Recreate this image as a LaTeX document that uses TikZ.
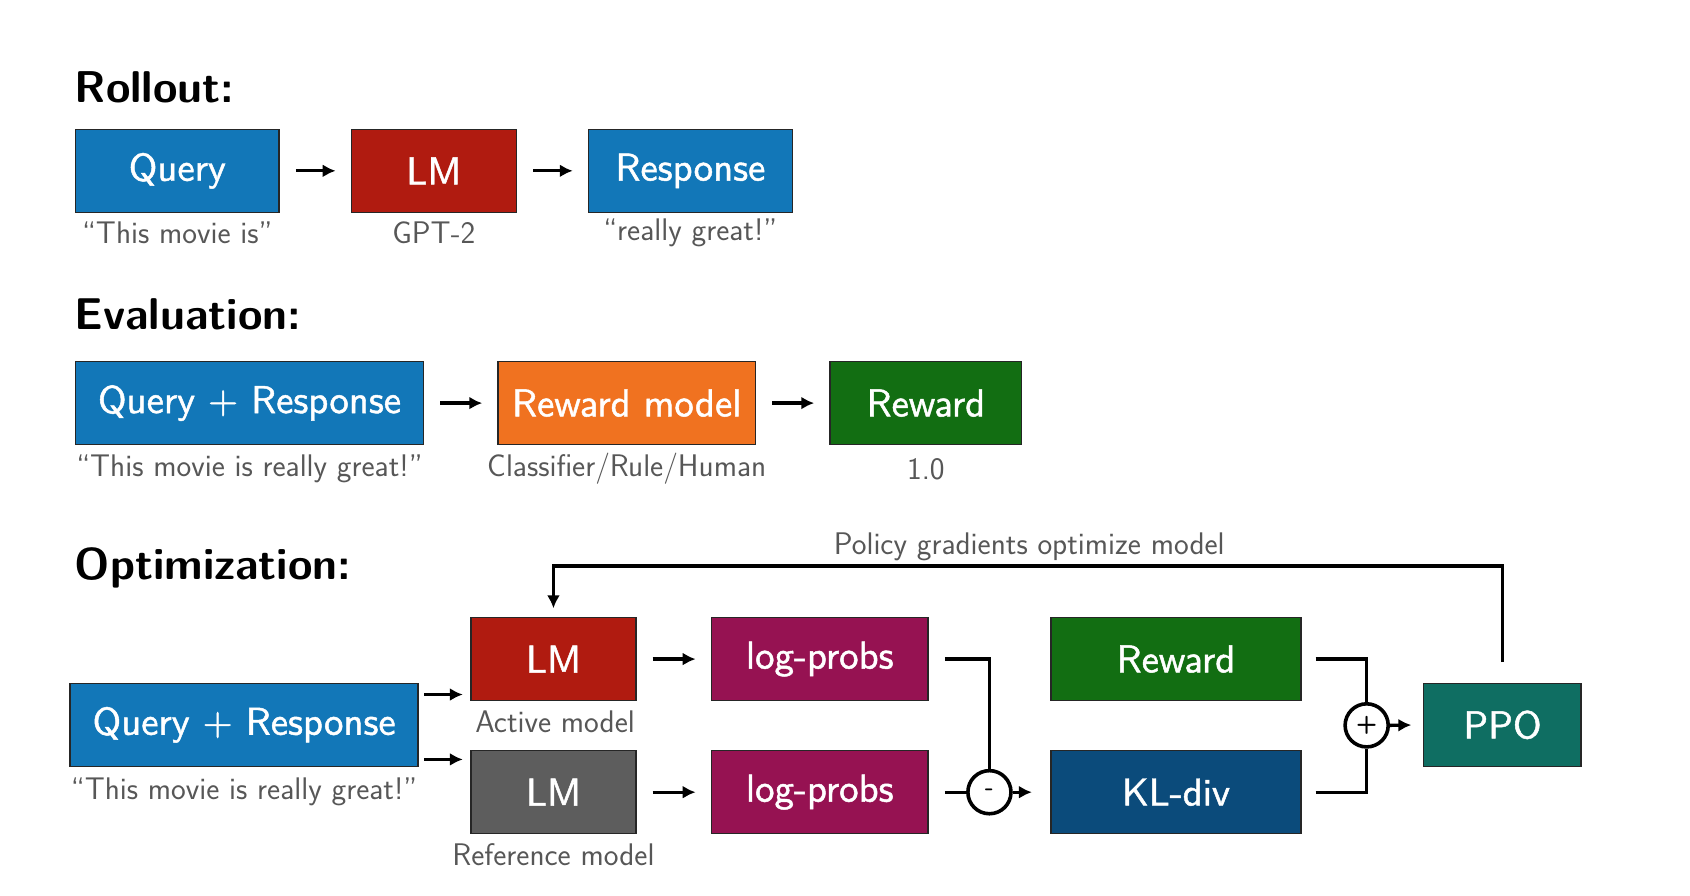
\documentclass[tikz,border=0pt]{standalone}
\usepackage{fontspec}
\usetikzlibrary{arrows.meta}
\newfontfamily\boxfont{lmsans10-regular.otf}[FakeBold=1.2]
\definecolor{qBlue}{HTML}{1277B8}
\definecolor{lmRed}{HTML}{B01B10}
\definecolor{rmOrange}{HTML}{F07220}
\definecolor{rwGreen}{HTML}{126E12}
\definecolor{lpPurple}{HTML}{961252}
\definecolor{klBlue}{HTML}{0B4B7B}
\definecolor{ppoTeal}{HTML}{0F6E62}
\definecolor{refGray}{HTML}{5D5D5D}
\definecolor{subGray}{HTML}{575757}
\begin{document}
\begin{tikzpicture}[x=0.02cm, y=-0.02cm,
    boxStyle/.style={draw=black!85, line width=0.7pt, text=white, font=\fontsize{20.5}{24}\boxfont, minimum height=1.54cm, inner sep=0pt},
    subStyle/.style={text=subGray, font=\fontsize{16.5}{19}\sffamily},
    headStyle/.style={anchor=base west, inner sep=0pt, font=\fontsize{23.5}{27}\sffamily\bfseries},
    opStyle/.style={circle, draw, line width=1.9pt, minimum size=0.8cm, inner sep=0pt, font=\fontsize{13}{13}\sffamily\bfseries},
    lineStyle/.style={line width=1.75pt},
    arrowStyle/.style={lineStyle, -{Latex[length=0.24cm, width=0.24cm]}, shorten <=0.3cm, shorten >=0.28cm}]
    \useasboundingbox (0,0) rectangle (1568,831);

    \node[headStyle](rollH) at (69, 95.5) {Rollout:};
    \node[boxStyle, fill=qBlue, minimum width=3.78cm](query) at (164.5, 158.5) {Query};
    \node[boxStyle, fill=lmRed, minimum width=3.06cm](lm) at (402.5, 158.5) {LM};
    \node[boxStyle, fill=qBlue, minimum width=3.78cm](resp) at (640.5, 158.5) {Response};
    \node[subStyle](queryS) at (164.5, 216) {“This movie is”};
    \node[subStyle](lmS) at (402.5, 216) {GPT-2};
    \node[subStyle](respS) at (640.5, 216) {“really great!”};

    \draw[arrowStyle] (query) -- (lm);
    \draw[arrowStyle] (lm) -- (resp);

    \node[headStyle](evalH) at (69, 306) {Evaluation:};
    \node[boxStyle, fill=qBlue, minimum width=6.46cm](qr) at (231.5, 374) {Query + Response};
    \node[boxStyle, fill=rmOrange, minimum width=4.78cm](rm) at (581.5, 374) {Reward model};
    \node[boxStyle, fill=rwGreen, minimum width=3.56cm](rw) at (859, 374) {Reward};
    \node[subStyle](qrS) at (231.5, 435) {“This movie is really great!”};
    \node[subStyle](rmS) at (581.5, 435) {Classifier/Rule/Human};
    \node[subStyle](rwS) at (859, 435) {1.0};

    \draw[arrowStyle] (qr) -- (rm);
    \draw[arrowStyle] (rm) -- (rw);

    \node[headStyle](optH) at (69, 538) {Optimization:};
    \node[boxStyle, fill=qBlue, minimum width=6.46cm](qrO) at (226.5, 672.5) {Query + Response};
    \node[boxStyle, fill=lmRed, minimum width=3.06cm](lmA) at (513.5, 611.5) {LM};
    \node[boxStyle, fill=refGray, minimum width=3.06cm](lmR) at (513.5, 735) {LM};
    \node[boxStyle, fill=lpPurple, minimum width=4.02cm](lpA) at (760.5, 611.5) {log-probs};
    \node[boxStyle, fill=lpPurple, minimum width=4.02cm](lpR) at (760.5, 735) {log-probs};
    \node[boxStyle, fill=rwGreen, minimum width=4.64cm](rwO) at (1091, 611.5) {Reward};
    \node[boxStyle, fill=klBlue, minimum width=4.64cm](kl) at (1091, 735) {KL-div};
    \node[boxStyle, fill=ppoTeal, minimum width=2.92cm](ppo) at (1394, 672.5) {PPO};
    \node[opStyle](minus) at (918, 735) {-};
    \node[opStyle](plus) at (1268, 673) {+};
    \node[subStyle](qrOS) at (226.5, 735) {“This movie is really great!”};
    \node[subStyle](lmAS) at (515, 670) {Active model};
    \node[subStyle](lmRS) at (513.5, 793) {Reference model};
    \node[subStyle](polS) at (955, 507) {Policy gradients optimize model};
    \coordinate(fb) at (955, 525);

    \draw[arrowStyle, shorten <=0.1cm, shorten >=0.14cm] ([yshift=-0.22cm]qrO.north east) -- ([yshift=-0.22cm]qrO.north east -| lmA.west);
    \draw[arrowStyle, shorten <=0.1cm, shorten >=0.14cm] ([yshift=0.14cm]qrO.south east) -- ([yshift=0.14cm]qrO.south east -| lmR.west);
    \draw[arrowStyle] (lmA) -- (lpA);
    \draw[arrowStyle] (lmR) -- (lpR);
    \draw[lineStyle, shorten <=0.3cm] (lpA.east) -| (minus.north);
    \draw[lineStyle, shorten <=0.3cm] (lpR.east) -- (minus.west);
    \draw[arrowStyle, shorten <=0cm, shorten >=0.34cm] (minus.east) -- (kl.west);
    \draw[lineStyle, shorten <=0.26cm] (rwO.east) -| (plus.north);
    \draw[lineStyle, shorten <=0.26cm] (kl.east) -| (plus.south);
    \draw[arrowStyle, shorten <=0cm, shorten >=0.22cm] (plus.east) -- (ppo.west);
    \draw[arrowStyle, shorten <=0.38cm, shorten >=0.16cm] (ppo.north) |- (fb) -| (lmA.north);
\end{tikzpicture}
\end{document}
